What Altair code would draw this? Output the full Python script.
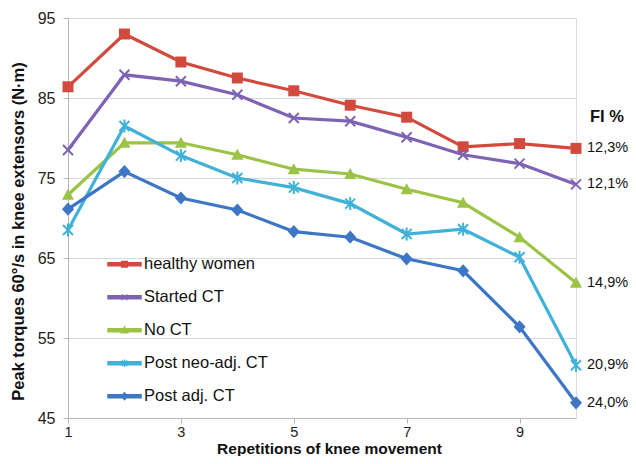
import altair as alt
import pandas as pd

reps = [1, 2, 3, 4, 5, 6, 7, 8, 9, 10]
series_names = ["healthy women", "Started CT", "No CT", "Post neo-adj. CT", "Post adj. CT"]
healthy = [86.4, 93.0, 89.5, 87.5, 85.9, 84.1, 82.6, 78.9, 79.3, 78.7]
started = [78.5, 87.9, 87.1, 85.4, 82.5, 82.1, 80.1, 77.9, 76.8, 74.2]
no_ct = [72.9, 79.4, 79.4, 77.9, 76.1, 75.5, 73.6, 71.9, 67.6, 61.9]
post_neo = [68.5, 81.5, 77.8, 75.0, 73.8, 71.8, 68.0, 68.6, 65.1, 51.6]
post_adj = [71.1, 75.8, 72.5, 71.0, 68.3, 67.6, 64.9, 63.4, 56.4, 46.9]
fi_labels = ["12,3%", "12,1%", "14,9%", "20,9%", "24,0%"]
y_ticks = [45, 50, 55, 60, 65, 70, 75, 80, 85, 90, 95]
x_ticks = [1, 3, 5, 7, 9]

colors = ["#D24A3D", "#7E63B5", "#9BC346", "#40B2D8", "#3D76C5"]
marker_paths = [
    "M-1,-1L1,-1L1,1L-1,1Z",
    "M-1,-1L1,1M-1,1L1,-1",
    "M0,-1.1L1.1,0.9L-1.1,0.9Z",
    "M-1,-1L1,1M-1,1L1,-1M0,-1.3L0,1.3",
    "M0,-1.2L1.1,0L0,1.2L-1.1,0Z",
]
marker_filled = [True, False, True, False, True]

s = 0.17
bar = "M-1,-0.09L1,-0.09L1,0.09L-1,0.09Z"
legend_paths = [
    bar + f"M{-s},{-s}L{s},{-s}L{s},{s}L{-s},{s}Z",
    bar + f"M{-s},{-s}L{s},{s}M{-s},{s}L{s},{-s}",
    bar + "M0,-0.19L0.19,0.15L-0.19,0.15Z",
    bar + f"M{-s},{-s}L{s},{s}M{-s},{s}L{s},{-s}M0,-0.22L0,0.22",
    bar + "M0,-0.2L0.18,0L0,0.2L-0.18,0Z",
]

all_vals = [healthy, started, no_ct, post_neo, post_adj]
rows = []
for name, vals in zip(series_names, all_vals):
    for r, v in zip(reps, vals):
        rows.append({"rep": r, "value": v, "series": name})
df = pd.DataFrame(rows)

ann = pd.DataFrame({
    "rep": [reps[-1]] * len(series_names),
    "value": [v[-1] for v in all_vals],
    "series": series_names,
    "fi": fi_labels,
})

FONT = "Liberation Sans"

x_enc = alt.X("rep:Q", scale=alt.Scale(domain=[1, 10], nice=False, zero=False),
              axis=alt.Axis(values=x_ticks, grid=False, title="Repetitions of knee movement",
                            format="d", labelFlush=False,
                            tickSize=5, labelPadding=2, labelFontSize=14.5, labelColor="#222",
                            titleFontSize=15.5, titleFontWeight="bold", titleColor="#111",
                            titleX=261, titleY=35, titleBaseline="alphabetic",
                            domainColor="#b5b5b5", tickColor="#b5b5b5", labelFont=FONT, titleFont=FONT))
y_enc = alt.Y("value:Q", scale=alt.Scale(domain=[45, 95], nice=False, zero=False),
              axis=alt.Axis(values=y_ticks, grid=True, gridColor="#d9d9d9",
                            title="Peak torques 60°/s in knee extensors (N·m)",
                            labelExpr="(datum.value - 45) % 10 == 0 ? datum.label : ''",
                            labelFlush=False,
                            tickSize=5, labelPadding=8, labelFontSize=16, labelColor="#222",
                            titleFontSize=16.5, titleFontWeight="bold", titleColor="#111",
                            titleAngle=270, titleX=-50, titleY=213, titleAlign="center",
                            titleBaseline="middle",
                            domainColor="#b5b5b5", tickColor="#b5b5b5", labelFont=FONT, titleFont=FONT))

leg = alt.Legend(title=None, orient="none", legendX=39, legendY=230,
                 symbolSize=1089, symbolStrokeWidth=1.5, padding=0,
                 rowPadding=0, clipHeight=32.5, labelOffset=2,
                 labelFontSize=16.5, labelFont=FONT, labelColor="#111",
                 labelLimit=300)
color_scale = alt.Scale(domain=series_names, range=colors)

lines = alt.Chart(df).mark_line(strokeWidth=3.2).encode(
    x=x_enc, y=y_enc,
    color=alt.Color("series:N", scale=color_scale, legend=leg),
    detail="series:N",
)

point_layers = []
for name, path, filled in zip(series_names, marker_paths, marker_filled):
    pl = alt.Chart(df).transform_filter(alt.datum.series == name).mark_point(
        shape=path, filled=filled, size=121 if filled else 100,
        strokeWidth=2 if not filled else 1, opacity=1
    ).encode(
        x="rep:Q", y="value:Q",
        color=alt.Color("series:N", scale=color_scale, legend=leg),
    )
    point_layers.append(pl)

legend_layer = alt.Chart(df).transform_filter("false").mark_point(filled=True, strokeWidth=1.5).encode(
    x="rep:Q", y="value:Q",
    color=alt.Color("series:N", scale=color_scale, legend=leg),
    shape=alt.Shape("series:N", scale=alt.Scale(domain=series_names, range=legend_paths), legend=leg),
)

fi_text = alt.Chart(ann).mark_text(align="left", baseline="middle", dx=11, fontSize=14.5,
                                   font=FONT, color="#111").encode(
    x="rep:Q", y="value:Q", text="fi:N")

fi_title = alt.Chart(ann.iloc[[0]]).mark_text(align="left", baseline="middle", dx=14, dy=-31,
                                              fontSize=16.5, fontWeight="bold", font=FONT,
                                              color="#111").encode(
    x="rep:Q", y="value:Q", text=alt.value("FI %"))

chart = alt.layer(lines, *point_layers, legend_layer, fi_text, fi_title).properties(
    width=508, height=400,
    autosize=alt.AutoSizeParams(type="none"),
    padding={"left": 60, "top": 10, "right": 52, "bottom": 38},
).configure_view(stroke=None).configure(background="white")

chart.save("out.html", embed_options={"renderer": "svg", "actions": False})
